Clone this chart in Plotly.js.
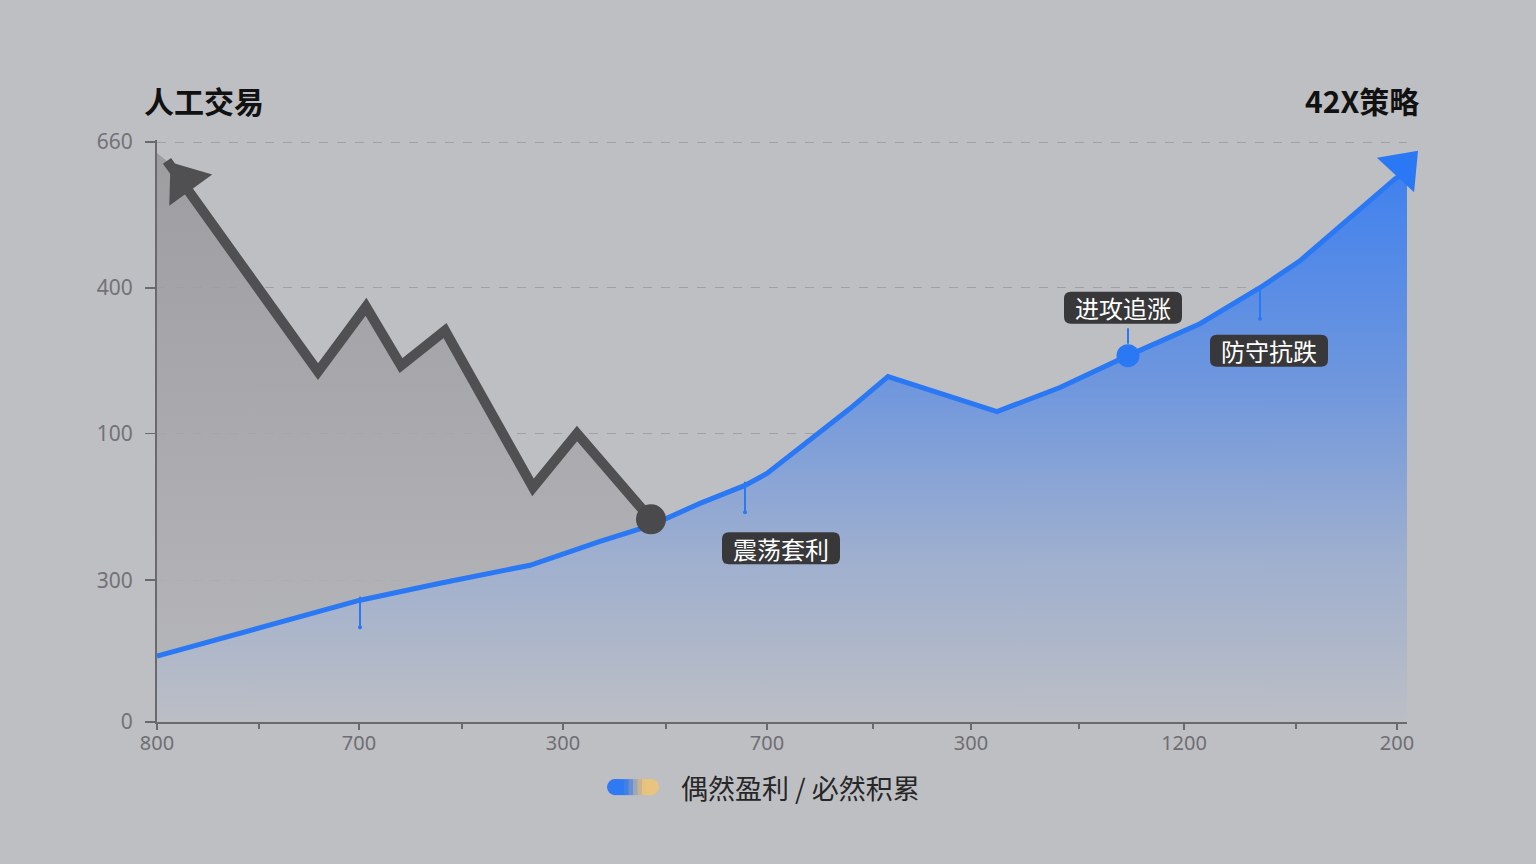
<!DOCTYPE html>
<html>
<head>
<meta charset="utf-8">
<script src="https://cdn.plot.ly/plotly-3.0.1.min.js"></script>
<style>
  html, body { margin: 0; padding: 0; background: #bebfc3; }
  #chart { width: 1536px; height: 864px; }
</style>
</head>
<body>
<div id="chart"></div>
<script>
// values (x: offset along the axis, y: height above the axis)
const manualX = [10, 161, 209, 244, 288, 376, 420, 494];
const manualY = [562, 351, 416, 357, 392, 235, 289, 203];

const strategyX = [0, 103, 203, 283, 373, 443, 494, 543, 588, 610, 653, 693, 731, 840, 903, 971, 1043, 1103, 1143, 1176, 1210, 1238, 1250];
const strategyY = [66, 95, 122, 139, 157, 181, 197, 219, 237, 249, 282, 314, 346, 311, 335, 367, 399, 435, 462, 490, 520, 544, 552];

const xTickVals = [0, 202, 406, 610, 814, 1027, 1240];
const xTickText = ['800', '700', '300', '700', '300', '1200', '200'];
const xMinorVals = [102, 305, 509, 716, 922, 1139];
const yTickVals = [0, 142, 289, 435, 581];
const yTickText = ['0', '300', '100', '400', '660'];

const phaseLabels = ['震荡套利', '进攻追涨', '防守抗跌'];
const phaseX = [624, 966, 1112];
const phaseY = [174, 415, 372];

// little pins on the blue curve
const pinX = [203, 588, 1103];
const pinY = [95, 210, 404];

const titleLeft = '人工交易';
const titleRight = '42X策略';
const legendText = '偶然盈利 / 必然积累';

const blue = '#2a78f4';
const grey = '#505052';
const cjk = '"Noto Sans CJK SC", "Noto Sans", sans-serif';

const n = manualX.length;
const last = strategyX.length - 1;

const traces = [
  {
    // grey area under the manual trading line
    x: [0].concat(manualX),
    y: [570].concat(manualY),
    mode: 'none',
    fill: 'tozeroy',
    fillgradient: {
      type: 'vertical',
      start: 0,
      stop: 570,
      colorscale: [[0, 'rgba(182,183,187,0.9)'], [1, 'rgba(152,152,155,0.85)']],
    },
    hoverinfo: 'none',
  },
  {
    x: strategyX,
    y: strategyY,
    mode: 'lines',
    line: { color: blue, width: 5 },
    fill: 'tozeroy',
    fillgradient: {
      type: 'vertical',
      start: 0,
      stop: 560,
      colorscale: [
        [0, '#bcbec5'],
        [0.3, '#9eafcf'],
        [0.6, '#7097dd'],
        [1, '#3e80ef'],
      ],
    },
    hoverinfo: 'none',
  },
  {
    x: manualX,
    y: manualY,
    mode: 'lines',
    line: { color: grey, width: 10 },
    hoverinfo: 'none',
  },
  {
    // arrow heads and end points
    x: [manualX[0] + 17, manualX[n - 1], strategyX[15], strategyX[last - 1] + 8],
    y: [manualY[0] - 20, manualY[n - 1], strategyY[15], strategyY[last - 1] + 12],
    mode: 'markers',
    cliponaxis: false,
    marker: {
      symbol: ['triangle-up', 'circle', 'circle', 'triangle-up'],
      size: [46, 30, 23, 44],
      angle: [-36, 0, 0, 43],
      color: [grey, '#4a4a4c', blue, blue],
      opacity: 1,
      line: { width: 0 },
    },
    hoverinfo: 'none',
  },
];

// rounded dark boxes behind the phase labels
function roundBox(w, h, r) {
  const a = w / 2, b = h / 2;
  return `M ${-a + r} ${-b} L ${a - r} ${-b} Q ${a} ${-b} ${a} ${-b + r} L ${a} ${b - r} Q ${a} ${b} ${a - r} ${b} ` +
    `L ${-a + r} ${b} Q ${-a} ${b} ${-a} ${b - r} L ${-a} ${-b + r} Q ${-a} ${-b} ${-a + r} ${-b} Z`;
}

const shapes = [];
const annotations = [];
phaseLabels.forEach((t, i) => {
  shapes.push({
    type: 'path', layer: 'above',
    xref: 'x', yref: 'y', xsizemode: 'pixel', ysizemode: 'pixel',
    xanchor: phaseX[i], yanchor: phaseY[i],
    path: roundBox(118, 32, 7),
    fillcolor: '#38383a', line: { width: 0 },
  });
  annotations.push({
    x: phaseX[i], y: phaseY[i], xref: 'x', yref: 'y',
    text: t, showarrow: false,
    font: { family: cjk, size: 24, color: '#ffffff' },
  });
});
// connector from 进攻追涨 to its dot
annotations.push({
  x: strategyX[15], y: strategyY[15] + 12, xref: 'x', yref: 'y',
  text: '', showarrow: true, arrowhead: 0, arrowwidth: 2, arrowcolor: blue,
  ax: 0, ay: -17,
});
pinX.forEach((px, i) => {
  annotations.push({
    x: px, y: pinY[i], xref: 'x', yref: 'y',
    text: '', showarrow: true, arrowhead: 6, arrowsize: 0.5, arrowwidth: 2,
    arrowcolor: blue, ax: 0, ay: -32,
  });
});
annotations.push(
  {
    x: -0.012, y: 1.069, xref: 'paper', yref: 'paper', xanchor: 'left', yanchor: 'middle',
    text: '<b>' + titleLeft + '</b>', showarrow: false,
    font: { family: cjk, size: 30, color: '#111111' },
  },
  {
    x: 1.011, y: 1.069, xref: 'paper', yref: 'paper', xanchor: 'right', yanchor: 'middle',
    text: '<b>' + titleRight + '</b>', showarrow: false,
    font: { family: cjk, size: 30, color: '#111111' },
  },
  {
    x: 0.4176, y: -0.112, xref: 'paper', yref: 'paper', xanchor: 'left', yanchor: 'middle',
    text: legendText, showarrow: false,
    font: { family: cjk, size: 27, color: '#262626' },
  }
);

// legend pill: blue fading into sand
const pillCols = ['#2f7af3', '#2f7af3', '#3f7fe6', '#6a8fd0', '#9aa6be', '#c9b48e', '#e6c27c', '#e8c47e'];
const px0 = 615, px1 = 651, pyC = 787;
const toPX = (p) => (p - 157) / 1250;
const toPY = (p) => (722 - p) / 581;
shapes.push({ type: 'circle', xref: 'paper', yref: 'paper', x0: toPX(px0 - 8), x1: toPX(px0 + 8), y0: toPY(pyC + 8), y1: toPY(pyC - 8), fillcolor: pillCols[0], line: { width: 0 } });
shapes.push({ type: 'circle', xref: 'paper', yref: 'paper', x0: toPX(px1 - 8), x1: toPX(px1 + 8), y0: toPY(pyC + 8), y1: toPY(pyC - 8), fillcolor: pillCols[pillCols.length - 1], line: { width: 0 } });
const step = (px1 - px0) / pillCols.length;
pillCols.forEach((c, i) => {
  shapes.push({ type: 'rect', xref: 'paper', yref: 'paper', x0: toPX(px0 + i * step), x1: toPX(px0 + (i + 1) * step + 0.5), y0: toPY(pyC + 8), y1: toPY(pyC - 8), fillcolor: c, line: { width: 0 } });
});

const layout = {
  width: 1536,
  height: 864,
  paper_bgcolor: '#bebfc3',
  plot_bgcolor: 'rgba(0,0,0,0)',
  showlegend: false,
  margin: { l: 157, r: 129, t: 140, b: 142, pad: 0 },
  xaxis: {
    range: [0, 1250],
    tickvals: xTickVals,
    ticktext: xTickText,
    ticks: 'outside',
    ticklen: 6,
    tickwidth: 1.5,
    tickcolor: '#6a6a6d',
    ticklabelstandoff: -4,
    minor: { tickvals: xMinorVals, ticks: 'outside', ticklen: 5, tickcolor: '#6a6a6d', showgrid: false },
    showline: true,
    linecolor: '#6a6a6d',
    linewidth: 2,
    showgrid: false,
    zeroline: false,
    tickfont: { family: 'Noto Sans, sans-serif', size: 20, color: '#6e6e72' },
    fixedrange: true,
  },
  yaxis: {
    range: [0, 583],
    tickvals: yTickVals,
    ticktext: yTickText,
    ticks: 'outside',
    ticklen: 10,
    tickwidth: 1.5,
    tickcolor: '#6a6a6d',
    ticklabelstandoff: 8,
    showline: true,
    linecolor: '#6a6a6d',
    linewidth: 2,
    showgrid: true,
    gridcolor: 'rgba(140,140,145,0.6)',
    griddash: 'dash',
    gridwidth: 1,
    zeroline: false,
    tickfont: { family: 'Noto Sans, sans-serif', size: 21, color: '#727276' },
    fixedrange: true,
  },
  annotations: annotations,
  shapes: shapes,
};

Plotly.newPlot('chart', traces, layout, { displayModeBar: false, staticPlot: true });
</script>
</body>
</html>
